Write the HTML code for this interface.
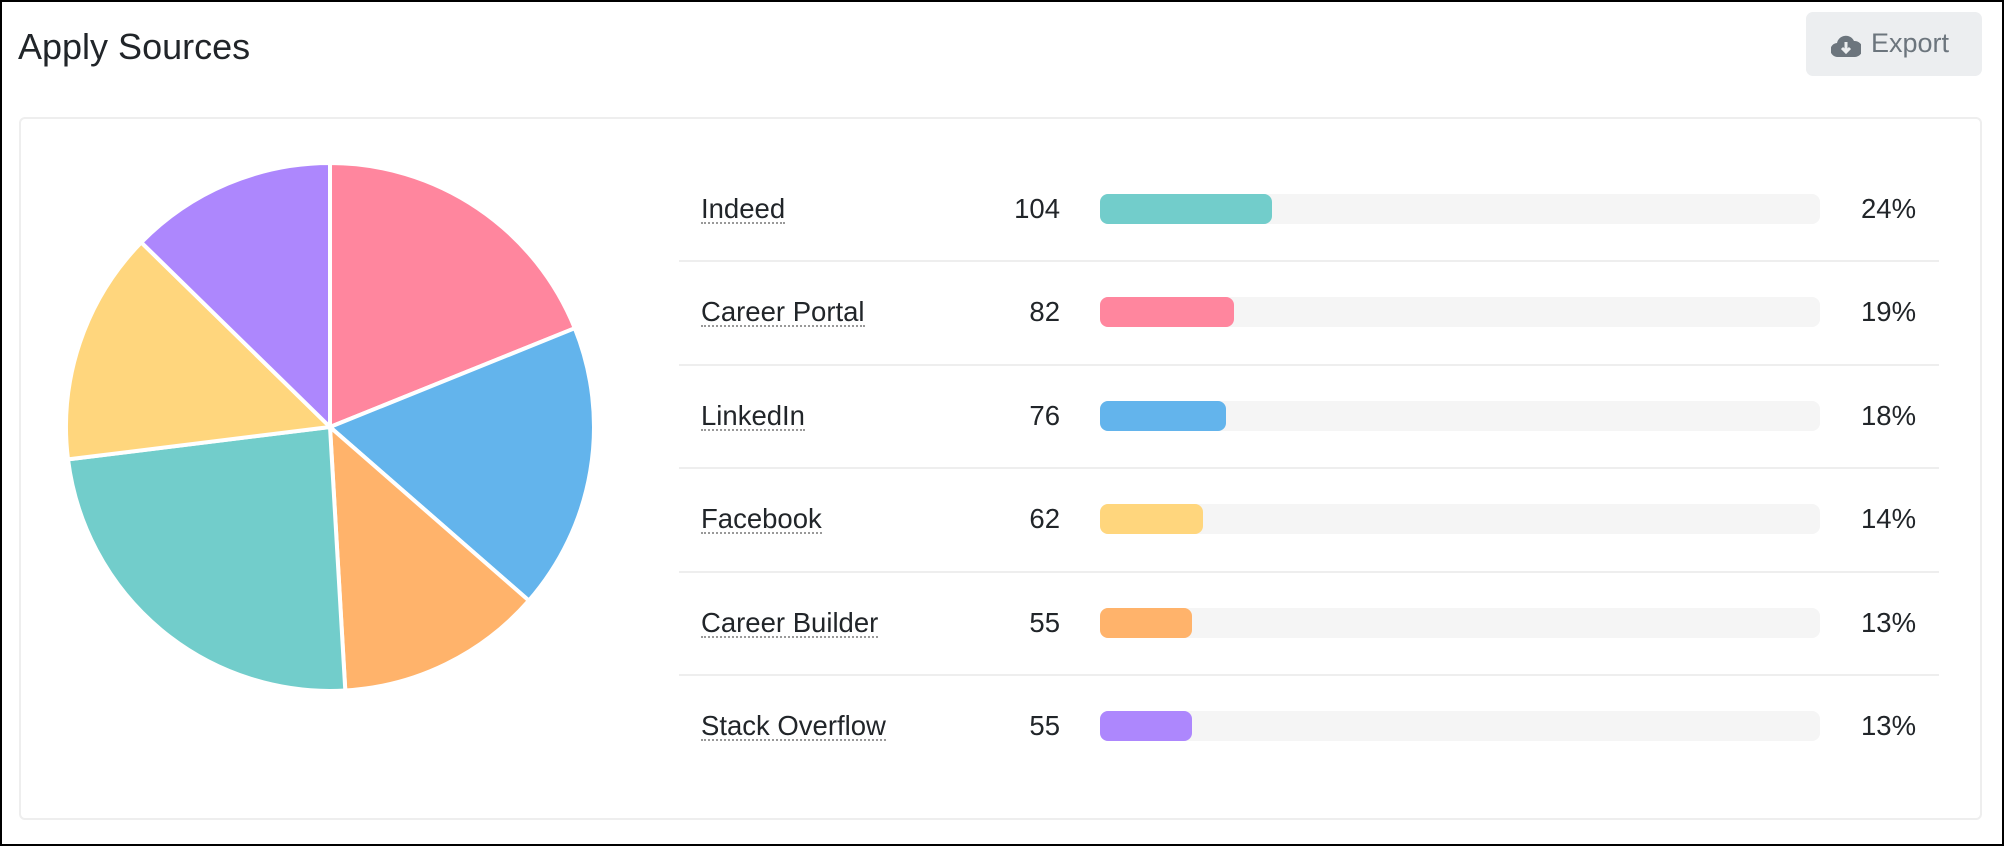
<!DOCTYPE html>
<html><head><style>
body{margin:0;width:2004px;height:846px;overflow:hidden;background:#fff;font-family:"Liberation Sans",sans-serif;}
.frame{position:absolute;left:0;top:0;width:2000px;height:842px;border:2px solid #000;}
.title{position:absolute;left:18px;top:26px;font-size:36px;color:#212529;}
.btn{position:absolute;left:1806px;top:12px;width:176px;height:64px;background:#eceef0;border-radius:7px;}
.btn span{position:absolute;left:65px;top:16px;font-size:27px;color:#6c757d;}
.card{position:absolute;left:19px;top:117px;width:1959px;height:699px;border:2px solid #eee;border-radius:6px;}
.lbl{position:absolute;left:701px;font-size:27.5px;color:#212529;border-bottom:2px dotted #999;line-height:26px;}
.cnt{position:absolute;right:944px;font-size:27.5px;color:#212529;line-height:26px;}
.pct{position:absolute;left:1861px;font-size:27.5px;color:#212529;line-height:26px;}
.track{position:absolute;left:1100px;width:720px;height:30px;background:#f5f5f5;border-radius:8px;}
.fill{height:30px;border-radius:8px;}
.sep{position:absolute;left:679px;width:1260px;height:2px;background:#eee;}
</style></head><body>
<div class="frame"></div>
<div class="title">Apply Sources</div>
<div class="btn"><svg style="position:absolute;left:25px;top:20px" width="30" height="26" viewBox="0 0 30 26"><path d="M7 25 A7 7 0 0 1 6 11 A9 9 0 0 1 23 9 A7 7 0 0 1 24 25 Z" fill="#6c757d"/><path d="M15 10 V20 M11 16 L15 20 L19 16" stroke="#eceef0" stroke-width="3" fill="none"/></svg><span>Export</span></div>
<div class="card"></div>
<svg style="position:absolute;left:0;top:0" width="2004" height="846">
<g stroke="#fff" stroke-width="4" stroke-linejoin="round">
<path d="M330 427 L330 163 A264 264 0 0 1 574.8 328.2 Z" fill="#ff869e"/>
<path d="M330 427 L574.8 328.2 A264 264 0 0 1 528.9 600.6 Z" fill="#63b4ec"/>
<path d="M330 427 L528.9 600.6 A264 264 0 0 1 345.3 690.5 Z" fill="#ffb36b"/>
<path d="M330 427 L345.3 690.5 A264 264 0 0 1 68 459.4 Z" fill="#72cdcb"/>
<path d="M330 427 L68 459.4 A264 264 0 0 1 141.3 242.4 Z" fill="#ffd67d"/>
<path d="M330 427 L141.3 242.4 A264 264 0 0 1 330 163 Z" fill="#ad87fd"/>
</g></svg>

<div class="lbl" style="top:196px">Indeed</div><div class="cnt" style="top:196px">104</div>
<div class="track" style="top:194px"><div class="fill" style="width:172px;background:#72cdcb"></div></div><div class="pct" style="top:196px">24%</div>
<div class="sep" style="top:260px"></div>

<div class="lbl" style="top:299px">Career Portal</div><div class="cnt" style="top:299px">82</div>
<div class="track" style="top:297px"><div class="fill" style="width:134px;background:#ff869e"></div></div><div class="pct" style="top:299px">19%</div>
<div class="sep" style="top:364px"></div>

<div class="lbl" style="top:403px">LinkedIn</div><div class="cnt" style="top:403px">76</div>
<div class="track" style="top:401px"><div class="fill" style="width:126px;background:#63b4ec"></div></div><div class="pct" style="top:403px">18%</div>
<div class="sep" style="top:467px"></div>

<div class="lbl" style="top:506px">Facebook</div><div class="cnt" style="top:506px">62</div>
<div class="track" style="top:504px"><div class="fill" style="width:103px;background:#ffd67d"></div></div><div class="pct" style="top:506px">14%</div>
<div class="sep" style="top:571px"></div>

<div class="lbl" style="top:610px">Career Builder</div><div class="cnt" style="top:610px">55</div>
<div class="track" style="top:608px"><div class="fill" style="width:92px;background:#ffb36b"></div></div><div class="pct" style="top:610px">13%</div>
<div class="sep" style="top:674px"></div>

<div class="lbl" style="top:713px">Stack Overflow</div><div class="cnt" style="top:713px">55</div>
<div class="track" style="top:711px"><div class="fill" style="width:92px;background:#ad87fd"></div></div><div class="pct" style="top:713px">13%</div>
</body></html>
